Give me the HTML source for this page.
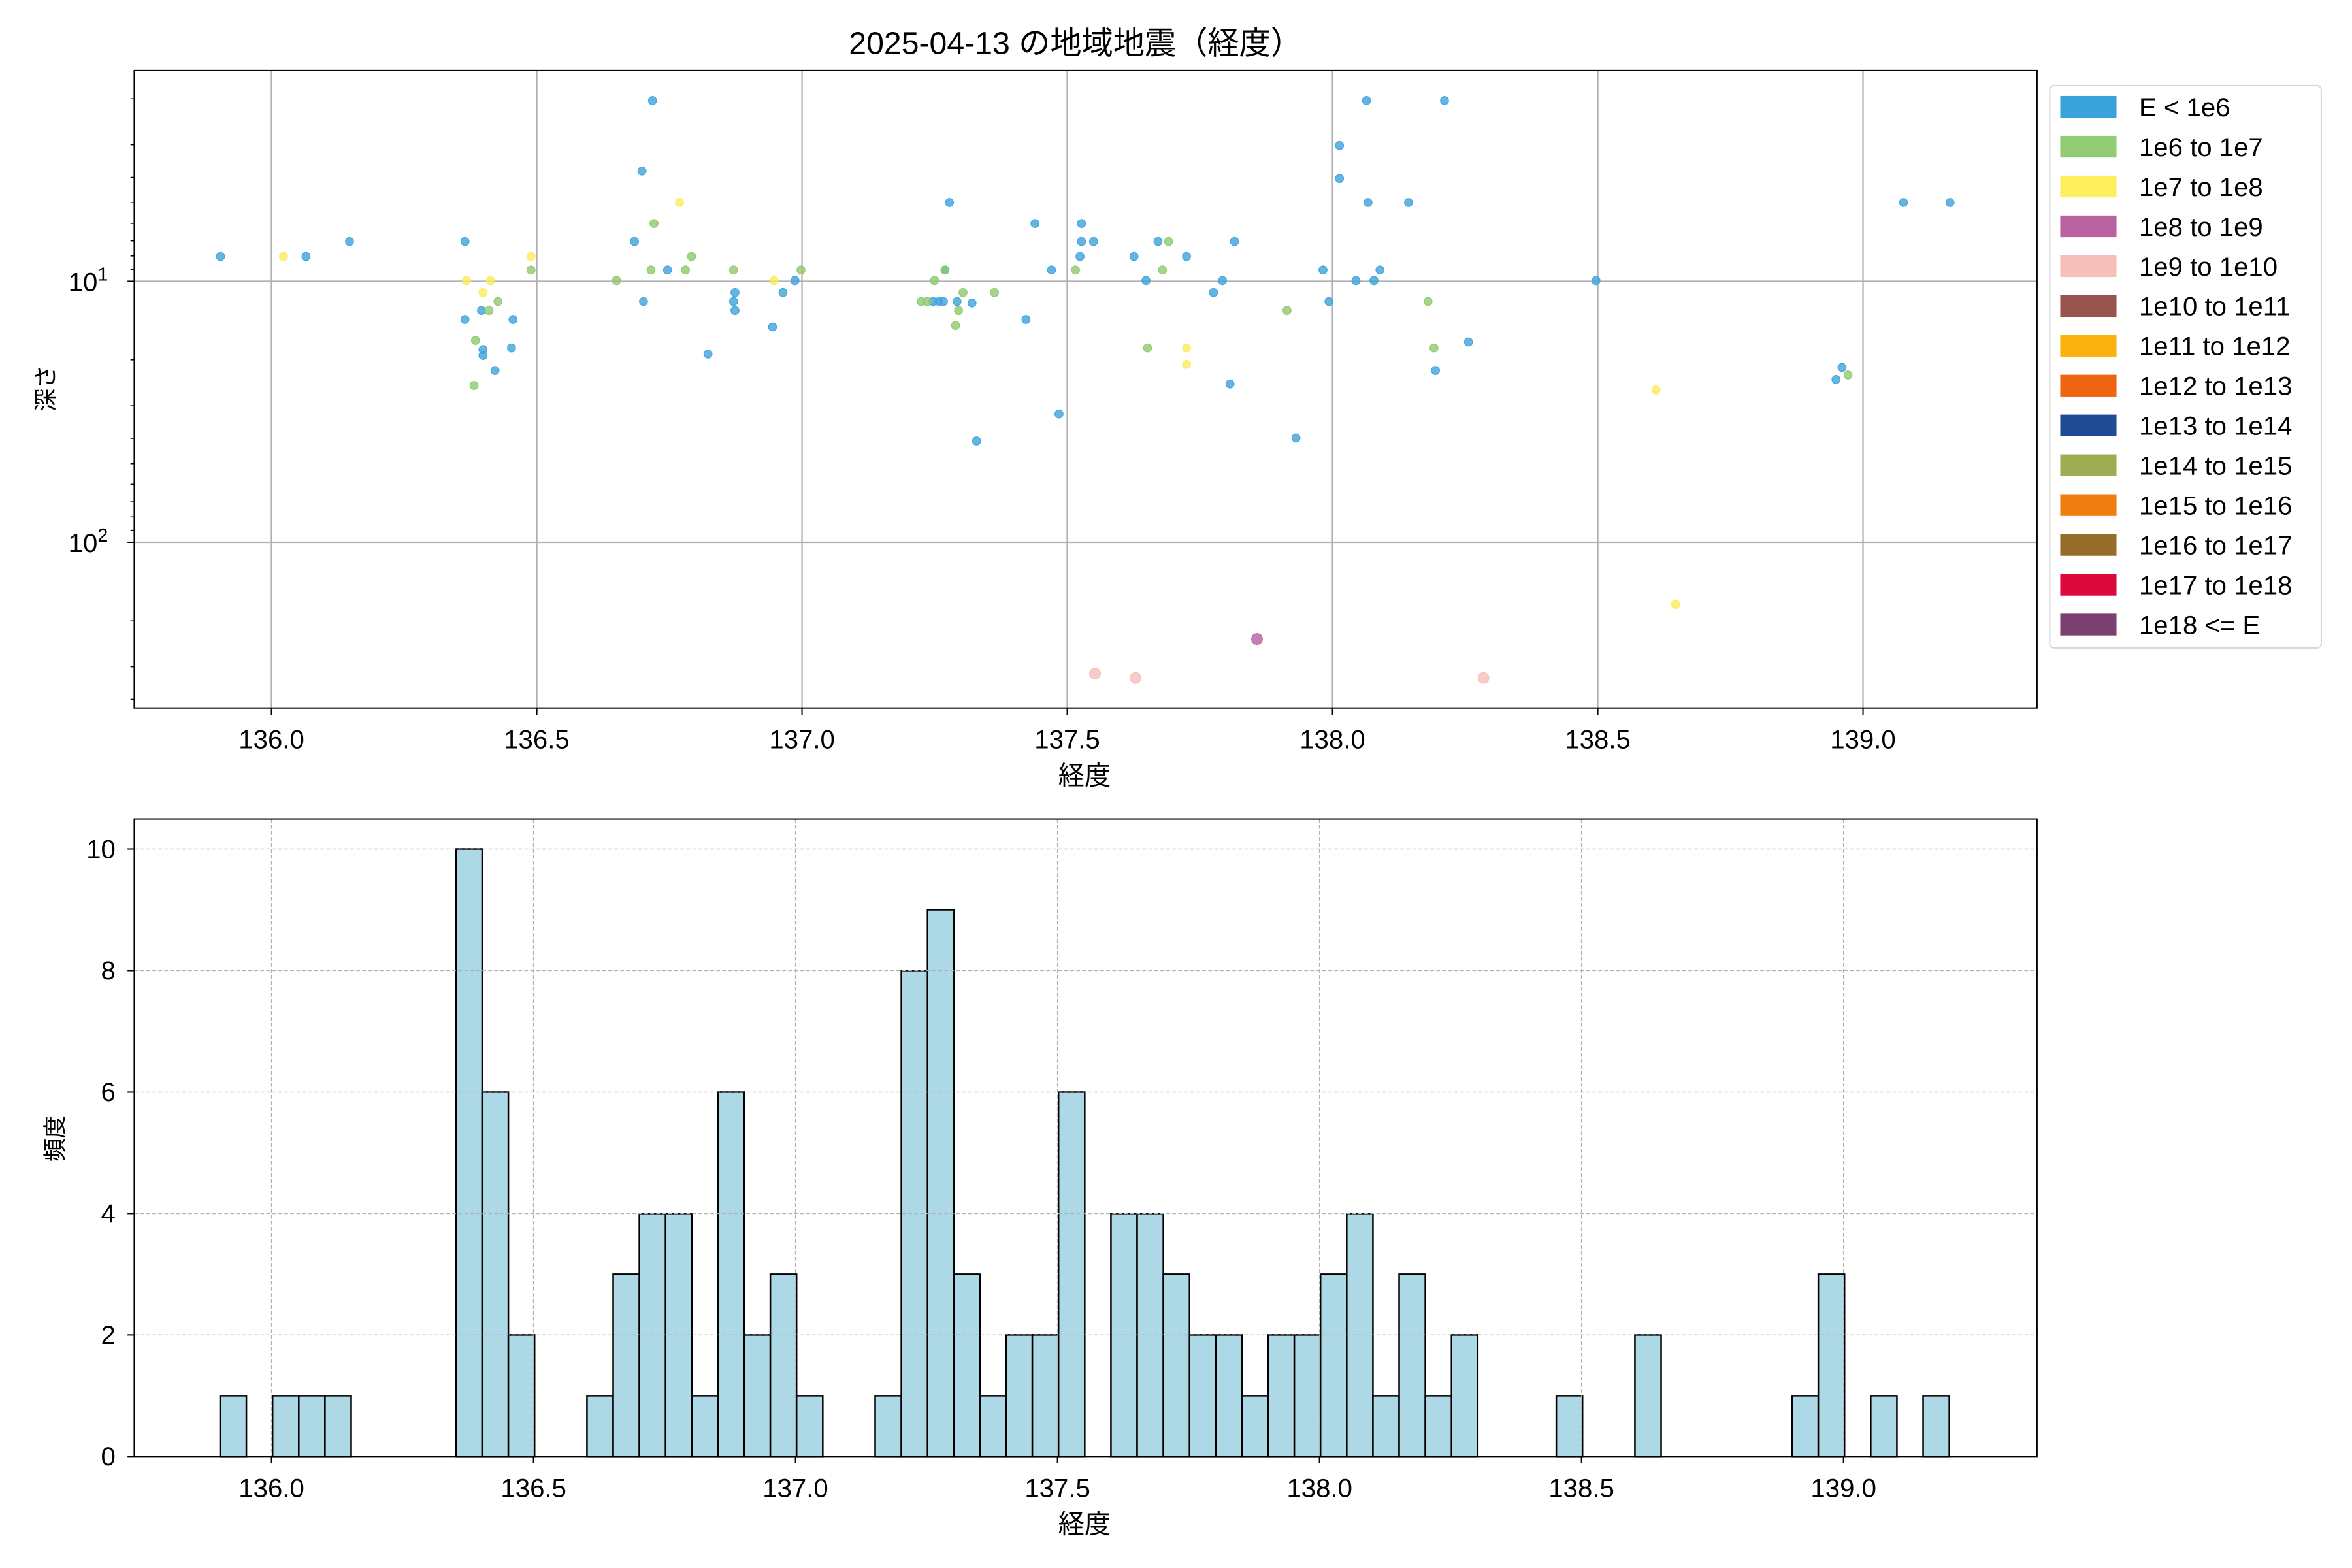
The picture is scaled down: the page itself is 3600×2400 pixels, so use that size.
<!DOCTYPE html>
<html><head><meta charset="utf-8"><style>
html,body{margin:0;padding:0;background:#fff;}
svg{display:block;}
text{font-family:"Liberation Sans","Noto Sans CJK JP",sans-serif;fill:#000;}
</style></head><body>
<svg id="s" width="3600" height="2400" viewBox="0 0 1568 1045.33" xmlns="http://www.w3.org/2000/svg">
<rect width="1568" height="1046" fill="#fff"/>
<text x="717" y="36" font-size="21" text-anchor="middle">2025-04-13 の地域地震（経度）</text>
<g id="gtop"></g>
<g id="gbot"></g>
<g font-size="17.5" text-anchor="middle">
<text x="181" y="499">136.0</text><text x="357.8" y="499">136.5</text><text x="534.7" y="499">137.0</text><text x="711.5" y="499">137.5</text><text x="888.3" y="499">138.0</text><text x="1065.2" y="499">138.5</text><text x="1242" y="499">139.0</text>
<text x="181" y="998">136.0</text><text x="355.7" y="998">136.5</text><text x="530.3" y="998">137.0</text><text x="705" y="998">137.5</text><text x="879.7" y="998">138.0</text><text x="1054.3" y="998">138.5</text><text x="1229" y="998">139.0</text>
<text x="723" y="523">経度</text>
<text x="723" y="1022">経度</text>
</g>
<g font-size="17.5" text-anchor="end">
<text x="72" y="194">10<tspan font-size="12.5" dy="-7">1</tspan></text>
<text x="72" y="368">10<tspan font-size="12.5" dy="-7">2</tspan></text>
<text x="77" y="977">0</text><text x="77" y="896">2</text><text x="77" y="815">4</text><text x="77" y="734">6</text><text x="77" y="653">8</text><text x="77" y="572">10</text>
</g>
<text font-size="15.5" text-anchor="middle" transform="translate(36,259) rotate(-90)">深さ</text>
<text font-size="15.5" text-anchor="middle" transform="translate(42,759) rotate(-90)">頻度</text>
<g id="gleg"></g>
</svg>
<script>
(function(){
var NS="http://www.w3.org/2000/svg";
function el(p,t,a){var e=document.createElementNS(NS,t);for(var k in a)e.setAttribute(k,a[k]);p.appendChild(e);return e;}
var gt=document.getElementById("gtop"),gb=document.getElementById("gbot"),gl=document.getElementById("gleg");
var L=89.5,R=1358,T1=47,B1=472,T2=546,B2=971;
function X(l){return 181+(l-136)*349.33;}
function XU(l){return 181+(l-136)*353.67;}
var XT=[136,136.5,137,137.5,138,138.5,139];
XT.forEach(function(v){el(gt,"line",{x1:XU(v),x2:XU(v),y1:T1,y2:B1,stroke:"#b0b0b0","stroke-width":1});});
[187.5,361.5].forEach(function(y){el(gt,"line",{x1:L,x2:R,y1:y,y2:y,stroke:"#b0b0b0","stroke-width":1});});
var C={b:"#3fa3dc",g:"#8fc96e",y:"#fdea5c",p:"#f6bfb8",m:"#b7609f"};
var P="b147,171 b204,171 b233,161 b310,161 b310,213 b321,207 b322,233 b322,237 b330,247 b342,213 b341,232 b435,67 b428,114 b423,161 b429,201 b445,180 b472,236 b490,195 b489,201 b490,207 b515,218 b522,195 b530,187 b633,135 b630,180 b622,201 b626,201 b629,201 b638,201 b648,202 b651,294 b684,213 b690,149 b701,180 b706,276 b721,149 b721,161 b720,171 b729,161 b756,171 b764,187 b772,161 b791,171 b809,195 b815,187 b820,256 b823,161 b864,292 b882,180 b886,201 b893,97 b893,119 b904,187 b911,67 b912,135 b916,187 b920,180 b939,135 b963,67 b957,247 b979,228 b1064,187 b1224,253 b1228,245 b1269,135 b1300,135 g316,257 g317,227 g326,207 g332,201 g354,180 g411,187 g436,149 g434,180 g457,180 g461,171 g489,180 g534,180 g614,201 g618,201 g623,187 g630,180 g637,217 g639,207 g642,195 g663,195 g717,180 g765,232 g775,180 g779,161 g858,207 g952,201 g956,232 g1232,250 y189,171 y311,187 y322,195 y327,187 y354,171 y453,135 y516,187 y791,232 y791,243 y1104,260 y1117,403 p730,449 p757,452 p989,452 m838,426".split(" ");
P.forEach(function(s){var c=s[0],xy=s.slice(1).split(",");var r=(c=="p"||c=="m")?3.6:2.7;el(gt,"circle",{cx:xy[0],cy:xy[1],r:r,fill:C[c],"fill-opacity":0.8,stroke:C[c],"stroke-opacity":0.9,"stroke-width":0.6});});
XT.forEach(function(v){el(gt,"line",{x1:XU(v),x2:XU(v),y1:B1,y2:B1+4.5,stroke:"#000","stroke-width":0.9});el(gb,"line",{x1:X(v),x2:X(v),y1:B2,y2:B2+4.5,stroke:"#000","stroke-width":0.9});});
[187.5,361.5].forEach(function(y){el(gt,"line",{x1:L-4.5,x2:L,y1:y,y2:y,stroke:"#000","stroke-width":0.9});});
function Y(d){return 187.5+(Math.log(d)/Math.LN10-1)*174;}
[2,3,4,5,6,7,8,9,20,30,40,50,60,70,80,90,200,300,400].forEach(function(d){var y=Y(d);if(y>T1&&y<B1)el(gt,"line",{x1:L-2.5,x2:L,y1:y,y2:y,stroke:"#000","stroke-width":0.7});});
el(gt,"rect",{x:L,y:T1,width:R-L,height:B1-T1,fill:"none",stroke:"#000","stroke-width":0.9});
var H={0:1,2:1,3:1,4:1,9:10,10:6,11:2,14:1,15:3,16:4,17:4,18:1,19:6,20:2,21:3,22:1,25:1,26:8,27:9,28:3,29:1,30:2,31:2,32:6,34:4,35:4,36:3,37:2,38:2,39:1,40:2,41:2,42:3,43:4,44:1,45:3,46:1,47:2,51:1,54:2,60:1,61:3,63:1,65:1};
var u=40.5,w=17.466;
for(var i in H){var x=146.78+Number(i)*w,h=H[i]*u;el(gb,"rect",{x:x,y:B2-h,width:w,height:h,fill:"#add8e6",stroke:"#000","stroke-width":1.1});}
XT.forEach(function(v){el(gb,"line",{x1:X(v),x2:X(v),y1:T2,y2:B2,stroke:"#b0b0b0","stroke-width":0.6,"stroke-dasharray":"2.5,1.5"});});
for(var k=0;k<=10;k+=2){var y=B2-k*u;el(gb,"line",{x1:L,x2:R,y1:y,y2:y,stroke:"#b0b0b0","stroke-width":0.6,"stroke-dasharray":"2.5,1.5"});el(gb,"line",{x1:L-4.5,x2:L,y1:y,y2:y,stroke:"#000","stroke-width":0.9});}
el(gb,"rect",{x:L,y:T2,width:R-L,height:B2-T2,fill:"none",stroke:"#000","stroke-width":0.9});
el(gl,"rect",{x:1366.5,y:57,width:181,height:375,rx:3,fill:"#fff",stroke:"#d6d6d6","stroke-width":0.9});
var LG=[["E < 1e6","#3ba3dc"],["1e6 to 1e7","#91cb74"],["1e7 to 1e8","#fdef5e"],["1e8 to 1e9","#b9629f"],["1e9 to 1e10","#f6bfba"],["1e10 to 1e11","#97544c"],["1e11 to 1e12","#f9b20e"],["1e12 to 1e13","#ee6410"],["1e13 to 1e14","#1f4a94"],["1e14 to 1e15","#9eac52"],["1e15 to 1e16","#f07d10"],["1e16 to 1e17","#966c2b"],["1e17 to 1e18","#dc0a3c"],["1e18 <= E","#7b3f70"]];
LG.forEach(function(e,j){var y=64+j*26.55;el(gl,"rect",{x:1373.5,y:y,width:37.5,height:14.5,fill:e[1]});var t=el(gl,"text",{x:1426,y:y+13.5,"font-size":"17.5"});t.textContent=e[0];});
})();
</script>
</body></html>
